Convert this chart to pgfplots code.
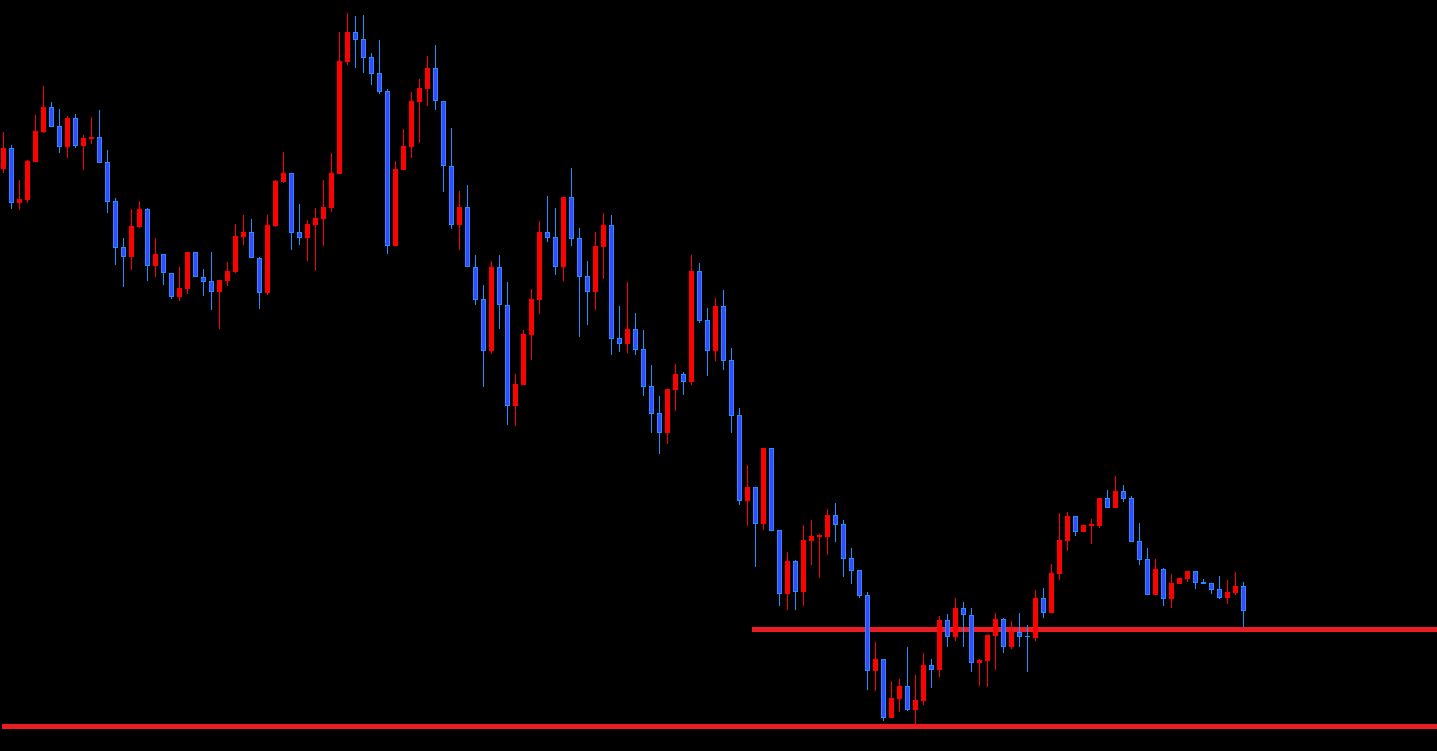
\documentclass[border=0pt]{standalone}
\usepackage{pgfplots}
\usepackage{pgfplotstable}
\pgfplotsset{compat=1.18}
\definecolor{candred}{RGB}{255,0,0}
\definecolor{bluefill}{RGB}{60,72,255}
\definecolor{blueedge}{RGB}{30,144,255}
\definecolor{linered}{RGB}{236,28,36}
% x = candle index, bt/bb = body top/bottom, wt/wb = wick top/bottom (screen y, downward)
\pgfplotstableread{
x bt bb wt wb
0 148.3 168.7 132 172.7
2 199.3 202.7 180 209.7
3 161 199.7 160 202.7
4 131 161.7 115 161.7
5 107 131.7 86 132.7
8 118 146.7 116 157.7
10 138.3 145.7 135 169.7
11 137 139 117 143.7
16 226 256.7 209 270
17 209 226.7 201 227.7
19 254 265.7 238 276.7
22 288 296.7 266.7 301
23 252 288.7 252 293.7
27 280 291.7 280 328.7
28 271 281 262 285.7
29 236 272 224 272.7
30 232 237 215 244.7
33 225 292.7 215 295
34 181 226 180 226.7
35 173 182 152 183
38 224 237.7 220 260.7
39 218 225 208 270.7
40 207 219 180 246
41 173 208 153 212
42 61 173.7 32 173.7
43 32 62 13 65
49 169 245.7 161 245.7
50 146 169.7 129 169.7
51 101 146.7 92 157.7
52 88 101.7 79 142.7
53 68 88.7 56 105.7
57 207 224.7 191 249.7
61 267 350.7 261 353.7
64 384 405.7 374 425.7
65 334 384.7 330 384.7
66 299 334.7 289 359.7
67 232 299.7 221 313.7
70 197 266.7 197 280.7
74 246 291.7 232 309.7
75 225 246.7 213 278.7
78 329 343.7 282 352.7
83 389 432.7 389 443.7
84 374 389.7 364 410.7
86 271 381.7 255 384.7
89 306 350.7 298 360.7
93 487 500.7 465 525.7
95 448 523.7 448 529.7
98 561 593.7 552 610
100 540 591.7 525 605.7
101 536 540.7 520 564.7
102 535.7 536.7 534 577.7
103 515 536.7 509 554.7
109 659.3 670.7 642.3 690.7
111 698.3 717.7 681.3 717.7
112 686.3 698.7 679.3 711.7
114 700.3 709.7 675.3 725
115 665.3 700.7 653.3 704.7
117 620.3 669.7 616.3 676.7
119 608.3 637.3 598.3 640.7
122 660.3 662.7 659.3 685.7
123 635.3 660.7 635.3 686.7
124 619.3 635.7 613.3 669.7
126 632 647.3 621.3 649.3
129 598 637.7 590 641
131 573 612.7 564 612.7
132 540 573.7 513 579.7
133 516 540.7 512 550.7
135 525 531.7 525 531.7
136 524.7 525.7 519 543.7
137 498 525.7 498 527.7
139 491 507.7 476 507.7
144 569 594.7 559 594.7
146 583 598.7 574 607.7
147 578 583.7 578 583.7
148 571 579 571 581.7
153 592 597.7 580 603.7
154 586 592.7 572 594.7
}\redt
\pgfplotstableread{
x bt bb wt wb
1 148.3 202.7 145.3 208.7
6 107 126.7 102 126.7
7 126 146.7 109 152.7
9 118 145.7 114 147.7
12 137 162.7 110 162.7
13 162 201.7 150 212.7
14 201.3 247.7 198 264.7
15 247 256.7 238 286.7
18 209 265.7 208 280.7
20 254 273.3 254 284.7
21 273 296.7 273 298.7
24 252.3 277.3 252.3 277.3
25 277.3 281.7 269 295.7
26 281 291.7 252 309.7
31 232.3 258.3 219 258.3
32 258 292.7 257 308.7
36 173.3 232.7 173.3 249.7
37 232.3 237.7 204 244.7
44 32 39.7 16 68
45 39 57.7 15 72.7
46 57 73.7 53 85
47 73 91.7 40 93.7
48 91 245.7 89 253.7
54 68.3 101.3 45 109.7
55 101.3 166.3 101.3 191.7
56 166.3 224.7 128 228.7
58 207.3 267.3 185 267.3
59 267.3 299.7 255 304.7
60 299.3 350.7 285 386.7
62 267.3 305.3 255 328.7
63 305.3 405.7 282 424.7
68 232 237.7 196 241.7
69 237 266.7 208 274.7
71 197 238.7 168 245.7
72 238 276.7 228 336.7
73 276 291.7 261 324.7
76 225 338.7 215 354.7
77 338 343.7 306 351.7
79 329 349.7 313 354.7
80 349 386.7 330 395.7
81 386 413.7 365 432.7
82 413 432.7 396 453.7
85 374 381.7 372 394.7
87 271 320.7 263 322.7
88 320 350.7 308 375.7
90 306 360.7 290 369.7
91 360 415.7 348 432.7
92 415 500.7 408 504.7
94 487 523.7 487 566.7
96 448 530.7 448 530.7
97 530 593.7 530 605.7
99 561 591.7 560 610
104 515 524.7 503 541.7
105 524 558.7 520 576.7
106 558 570.7 548 583.7
107 570.3 595.7 570.3 597.7
108 595.3 670.7 592.3 689.7
110 659.3 717.7 659.3 720.7
113 686.3 709.7 647.3 710.7
116 665.3 669.7 659.3 687.7
118 620.3 637.3 614.3 646.7
120 608.3 615.3 602.3 646.7
121 615.3 662.7 608.3 671.7
125 619.3 647.3 618.3 652.7
127 632 636.7 613.3 646.7
128 635.7 637.3 625.3 671.7
130 598 612.7 588 617.7
134 516 531.7 516 535.7
138 498 507.7 490 507.7
140 491 498.7 485 501.7
141 498 541.7 496 541.7
142 541 559.7 523 564.7
143 559 594.7 548 594.7
145 569 598.7 568 605.7
149 571 582.7 571 588.7
150 582 583.7 579 583.7
151 583 589.7 583 593.7
152 589 597.7 576 598.7
155 586 610.7 582 627
}\bluet
\begin{document}
\begin{tikzpicture}
\begin{axis}[
  scale only axis, width=1437pt, height=751pt,
  xmin=-0.4125, xmax=179.2125, ymin=0, ymax=751, y dir=reverse,
  axis background/.style={fill=black},
  axis line style={draw=none}, xtick=\empty, ytick=\empty,
  clip=true,
]
% support lines
\addplot[linered, line width=4.3pt] coordinates {(93.6,629.5) (179.3,629.5)};
\addplot[linered, line width=4.5pt] coordinates {(-0.17,726.3) (179.3,726.3)};
% wicks
\addplot[draw=none, mark=none, error bars/.cd, y dir=both, y explicit, error mark=none,
  error bar style={draw=candred, solid, line width=1pt}]
  table[x=x, y expr={(\thisrow{wt}+\thisrow{wb})/2}, y error expr={(\thisrow{wb}-\thisrow{wt})/2}] {\redt};
\addplot[draw=none, mark=none, error bars/.cd, y dir=both, y explicit, error mark=none,
  error bar style={draw=blueedge, solid, line width=1pt}]
  table[x=x, y expr={(\thisrow{wt}+\thisrow{wb})/2}, y error expr={(\thisrow{wb}-\thisrow{wt})/2}] {\bluet};
% bodies
\addplot[draw=none, mark=none, error bars/.cd, y dir=both, y explicit, error mark=none,
  error bar style={draw=candred, solid, line width=5pt}]
  table[x=x, y expr={(\thisrow{bt}+\thisrow{bb})/2}, y error expr={max((\thisrow{bb}-\thisrow{bt})/2,0.8)}] {\redt};
\addplot[draw=none, mark=none, error bars/.cd, y dir=both, y explicit, error mark=none,
  error bar style={draw=blueedge, solid, line width=5pt}]
  table[x=x, y expr={(\thisrow{bt}+\thisrow{bb})/2}, y error expr={max((\thisrow{bb}-\thisrow{bt})/2,0.8)}] {\bluet};
\addplot[draw=none, mark=none, error bars/.cd, y dir=both, y explicit, error mark=none,
  error bar style={draw=bluefill, solid, line width=3pt}]
  table[x=x, y expr={(\thisrow{bt}+\thisrow{bb})/2}, y error expr={max((\thisrow{bb}-\thisrow{bt})/2-1,0)}] {\bluet};
\end{axis}
\end{tikzpicture}
\end{document}
